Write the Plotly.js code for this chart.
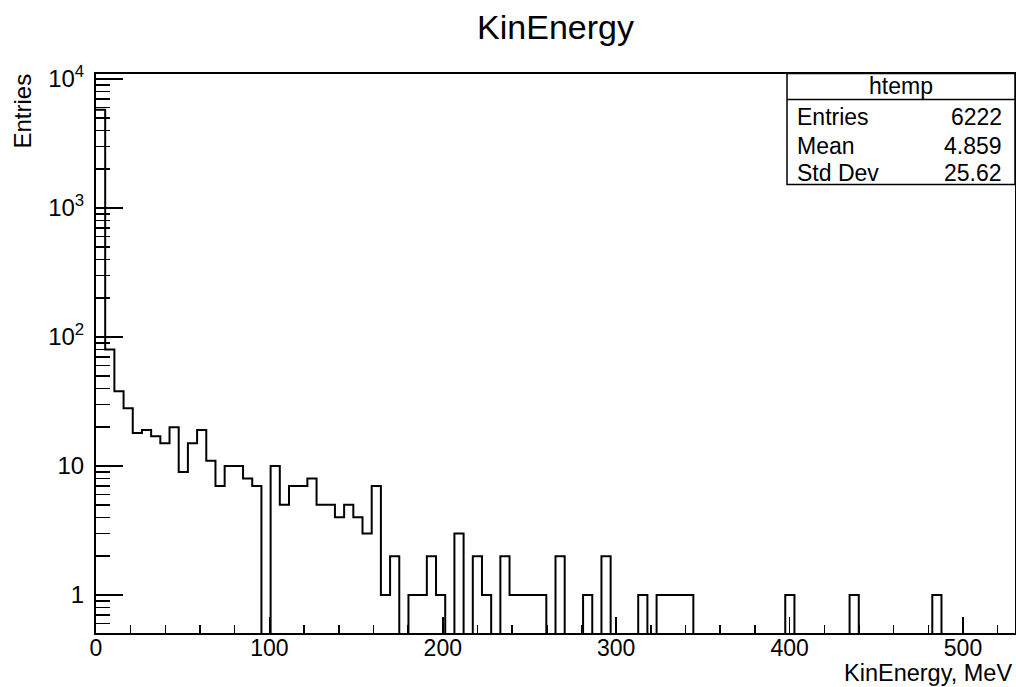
<!DOCTYPE html>
<html>
<head>
<meta charset="utf-8">
<script src="https://cdn.plot.ly/plotly-3.0.1.min.js"></script>
<style>
html,body{margin:0;padding:0;background:#fff;}
#chart{width:1016px;height:687px;}
</style>
</head>
<body>
<div id="chart"></div>
<script>
// ---- data ----
const histTitle = "KinEnergy";
const xTitle = "KinEnergy, MeV";
const yTitle = "Entries";
const xMin = 0;
const xMax = 530;
const nBins = 100;
const counts = [
  5788, 80, 38, 28, 18, 19, 17, 15, 20, 9,
  15, 19, 11, 7, 10, 10, 8, 7, 0, 10,
  5, 7, 7, 8, 5, 5, 4, 5, 4, 3,
  7, 1, 2, 0, 1, 1, 2, 1, 0, 3,
  0, 2, 1, 0, 2, 1, 1, 1, 1, 0,
  2, 0, 0, 1, 0, 2, 0, 0, 0, 1,
  0, 1, 1, 1, 1, 0, 0, 0, 0, 0,
  0, 0, 0, 0, 0, 1, 0, 0, 0, 0,
  0, 0, 1, 0, 0, 0, 0, 0, 0, 0,
  0, 1, 0, 0, 0, 0, 0, 0, 0, 0
];
const statsName = "htemp";
const statsLabels = ["Entries", "Mean", "Std Dev"];
const statsValues = ["6222", "4.859", "25.62"];
const yTickVals = [1, 10, 100, 1000, 10000];
const yTickText = ["1", "10", "10<sup>2</sup>", "10<sup>3</sup>", "10<sup>4</sup>"];
const xTickVals = [0, 100, 200, 300, 400, 500];

// ---- build step outline ----
const binW = (xMax - xMin) / nBins;
const FLOOR = 1e-3; // empty bins drawn down past the axis floor (log scale)
const xs = [], ys = [];
for (let i = 0; i < nBins; i++) {
  xs.push(xMin + i * binW);
  ys.push(counts[i] > 0 ? counts[i] : FLOOR);
}
xs.push(xMax);
ys.push(counts[nBins - 1] > 0 ? counts[nBins - 1] : FLOOR);

// minor ticks on log axis: 2..9 x decade
const yMinor = [];
[0.1, 1, 10, 100, 1000].forEach(d => { for (let k = 2; k <= 9; k++) yMinor.push(k * d); });

// ---- layout geometry (pixels) ----
const W = 1016, H = 687;
const L = 96, R = 1015, T = 74, B = 633;
const pw = R - L, ph = B - T;
const px = x => (x - L) / pw;
const py = y => (B - y) / ph;

const FONT = "Liberation Sans, Arial, Helvetica, sans-serif";

const trace = {
  type: "scatter",
  mode: "lines",
  x: xs,
  y: ys,
  line: { shape: "hv", color: "#000", width: 2 },
  hoverinfo: "skip",
  showlegend: false
};

const annotations = [
  { text: yTitle, xref: "paper", yref: "paper", x: px(22), y: py(72), xanchor: "center", yanchor: "top",
    textangle: -90, showarrow: false, font: { family: FONT, size: 24, color: "#000" } },
  { text: xTitle, xref: "paper", yref: "paper", x: px(1014), y: py(673), xanchor: "right", yanchor: "middle",
    showarrow: false, font: { family: FONT, size: 23.5, color: "#000" } },
  { text: statsName, xref: "paper", yref: "paper", x: px((787 + 1015) / 2), y: py(86.5), xanchor: "center", yanchor: "middle",
    showarrow: false, font: { family: FONT, size: 23, color: "#000" } }
];
const rowY = [117, 145.5, 172.5];
statsLabels.forEach((lab, i) => {
  annotations.push({ text: lab, xref: "paper", yref: "paper", x: px(795), y: py(rowY[i]), xanchor: "left", yanchor: "middle",
    showarrow: false, font: { family: FONT, size: 23, color: "#000" } });
  annotations.push({ text: statsValues[i], xref: "paper", yref: "paper", x: px(1004), y: py(rowY[i]), xanchor: "right", yanchor: "middle",
    showarrow: false, font: { family: FONT, size: 23, color: "#000" } });
});

const shapes = [
  { type: "rect", xref: "paper", yref: "paper", x0: px(787), x1: px(1015), y0: py(184.5), y1: py(73.5),
    line: { color: "#000", width: 1.5 }, fillcolor: "#fff", layer: "above" },
  { type: "line", xref: "paper", yref: "paper", x0: px(787), x1: px(1015), y0: py(99.5), y1: py(99.5),
    line: { color: "#000", width: 1.5 }, layer: "above" }
];

const layout = {
  width: W, height: H,
  margin: { l: L, r: W - R, t: T, b: H - B, pad: 0 },
  paper_bgcolor: "#fff",
  plot_bgcolor: "#fff",
  font: { family: FONT, color: "#000" },
  title: { text: histTitle, xref: "paper", x: 0.5, xanchor: "center", yref: "container", y: 1 - 27 / H, yanchor: "middle",
    font: { family: FONT, size: 34, color: "#000" } },
  xaxis: {
    range: [xMin, xMax],
    tickvals: xTickVals,
    ticks: "inside", ticklen: 16, tickwidth: 1.5, tickcolor: "#000",
    minor: { dtick: 20, tick0: 0, ticks: "inside", ticklen: 8, tickwidth: 1.5, tickcolor: "#000", showgrid: false },
    showgrid: false, zeroline: false,
    showline: true, mirror: true, linecolor: "#000", linewidth: 2,
    tickfont: { family: FONT, size: 23, color: "#000" },
    ticklabelstandoff: -7,
    fixedrange: true
  },
  yaxis: {
    type: "log",
    range: [-0.2946, 4.0388],
    tickvals: yTickVals, ticktext: yTickText,
    ticks: "inside", ticklen: 27, tickwidth: 1.5, tickcolor: "#000",
    minor: { tickvals: yMinor, ticks: "inside", ticklen: 14, tickwidth: 1.5, tickcolor: "#000", showgrid: false },
    showgrid: false, zeroline: false,
    showline: true, mirror: true, linecolor: "#000", linewidth: 2,
    tickfont: { family: FONT, size: 24, color: "#000" },
    ticklabelstandoff: 5,
    fixedrange: true
  },
  annotations: annotations,
  shapes: shapes,
  showlegend: false
};

Plotly.newPlot("chart", [trace], layout, { displayModeBar: false, staticPlot: true });
</script>
</body>
</html>
